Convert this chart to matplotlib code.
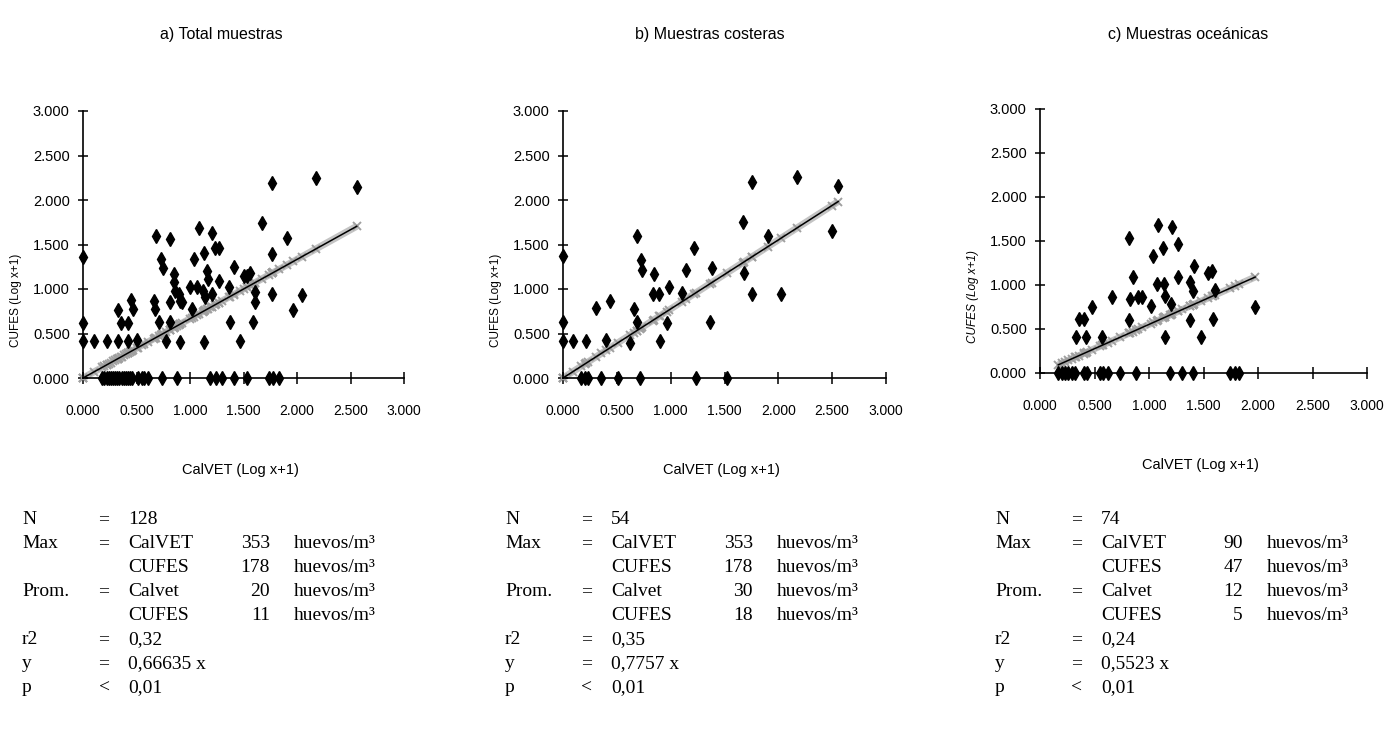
import matplotlib.pyplot as plt
import numpy as np

# ---- datos (log x+1) ----
titulos = ['a) Total muestras', 'b) Muestras costeras', 'c) Muestras oceánicas']

# a) total
cal_a = [0, 0, 0, 0.106, 0.224, 0.324, 0.324, 0.358, 0.42, 0.42, 0.45, 0.47, 0.505,
         0.66, 0.675, 0.68, 0.707, 0.73, 0.75, 0.775, 0.815, 0.815, 0.81, 0.847, 0.847,
         0.862, 0.893, 0.91, 0.91, 0.924, 1.0, 1.018, 1.033, 1.065, 1.086, 1.117, 1.133,
         1.133, 1.14, 1.158, 1.164, 1.205, 1.205, 1.236, 1.267, 1.267, 1.36, 1.37, 1.407,
         1.47, 1.5, 1.53, 1.563, 1.585, 1.61, 1.61, 1.671, 1.765, 1.765, 1.765, 1.91,
         1.967, 2.045, 2.18, 2.558,
         0.18, 0.2, 0.22, 0.24, 0.26, 0.28, 0.3, 0.32, 0.34, 0.36, 0.38, 0.40, 0.42,
         0.44, 0.46, 0.51, 0.55, 0.57, 0.61, 0.74, 0.88, 1.19, 1.24, 1.30, 1.41, 1.53,
         1.74, 1.78, 1.83]
cufes_a = [1.354, 0.616, 0.414, 0.414, 0.42, 0.42, 0.765, 0.616, 0.616, 0.414, 0.88, 0.78,
           0.43, 0.87, 0.776, 1.597, 0.627, 1.336, 1.24, 0.414, 1.56, 0.85, 0.627, 1.168,
           1.075, 0.98, 0.944, 0.87, 0.403, 0.85, 1.02, 0.776, 1.336, 1.02, 1.683, 0.98,
           1.41, 0.403, 0.907, 1.205, 1.112, 1.634, 0.944, 1.466, 1.466, 1.093, 1.02, 0.627,
           1.243, 0.414, 1.15, 1.15, 1.175, 0.627, 0.963, 0.85, 1.746, 2.194, 1.392, 0.944,
           1.578, 0.765, 0.937, 2.25, 2.146,
           0, 0, 0, 0, 0, 0, 0, 0, 0, 0, 0, 0, 0, 0, 0, 0, 0, 0, 0, 0, 0, 0, 0, 0, 0, 0,
           0, 0, 0]

# b) costeras
cal_b = [0, 0, 0, 0.093, 0.217, 0.31, 0.404, 0.441, 0.621, 0.658, 0.683, 0.683, 0.724,
         0.736, 0.845, 0.832, 0.894, 0.9, 0.963, 0.988, 1.102, 1.143, 1.22, 1.366, 1.382,
         1.668, 1.677, 1.755, 1.755, 1.9, 2.028, 2.174, 2.494, 2.556,
         0.171, 0.202, 0.233, 0.357, 0.512, 0.714, 1.236, 1.522]
cufes_b = [1.368, 0.625, 0.413, 0.413, 0.413, 0.784, 0.428, 0.866, 0.39, 0.773, 1.591, 0.625,
           1.331, 1.219, 1.171, 0.94, 0.94, 0.413, 0.613, 1.022, 0.959, 1.219, 1.461, 0.625,
           1.238, 1.751, 1.182, 2.204, 0.948, 1.591, 0.948, 2.26, 1.654, 2.156,
           0, 0, 0, 0, 0, 0, 0, 0]

# c) oceánicas
cal_c = [0.328, 0.358, 0.407, 0.42, 0.474, 0.572, 0.658, 0.817, 0.817, 0.826, 0.851, 0.903,
         0.94, 1.016, 1.04, 1.071, 1.087, 1.133, 1.142, 1.148, 1.148, 1.209, 1.203, 1.27,
         1.27, 1.377, 1.377, 1.408, 1.417, 1.478, 1.54, 1.576, 1.583, 1.607, 1.974,
         0.168, 0.199, 0.23, 0.26, 0.29, 0.32, 0.40, 0.43, 0.55, 0.575, 0.62, 0.735,
         0.878, 1.194, 1.307, 1.408, 1.745, 1.785, 1.83]
cufes_c = [0.411, 0.617, 0.617, 0.411, 0.754, 0.411, 0.865, 1.531, 0.602, 0.846, 1.086, 0.865,
           0.865, 0.762, 1.326, 1.01, 1.684, 1.417, 1.01, 0.876, 0.411, 1.657, 0.781, 1.467,
           1.086, 1.029, 0.602, 0.933, 1.219, 0.411, 1.135, 1.162, 0.61, 0.945, 0.754,
           0, 0, 0, 0, 0, 0, 0, 0, 0, 0, 0, 0, 0, 0, 0, 0, 0, 0, 0]

pendientes = [0.66635, 0.7757, 0.5523]
n_muestras = [128, 54, 74]
max_calvet = [353, 353, 90]
max_cufes = [178, 178, 47]
prom_calvet = [20, 30, 12]
prom_cufes = [11, 18, 5]
r2 = ['0,32', '0,35', '0,24']
p_val = '0,01'

ticks = [0, 0.5, 1.0, 1.5, 2.0, 2.5, 3.0]
tick_labels = ['0.000', '0.500', '1.000', '1.500', '2.000', '2.500', '3.000']

sans = ['Liberation Sans', 'DejaVu Sans']
serif = ['Liberation Serif', 'DejaVu Serif']

W, H = 1386, 747
fig = plt.figure(figsize=(13.86, 7.47), dpi=100)

# posiciones en pixeles: (izq, y de 0, ancho, alto)
cajas = [(83, 378, 321, 267), (563, 378, 323, 267), (1040, 373, 327, 264)]
centros_titulo = [221, 710, 1188]
x_bloque = [22, 505, 995]
filas = [520, 544, 568, 592, 616, 640, 664, 688]

datos = [(cal_a, cufes_a), (cal_b, cufes_b), (cal_c, cufes_c)]

for i in range(3):
    l, b0, w, h = cajas[i]
    ax = fig.add_axes([l / W, 1 - b0 / H, w / W, h / H])
    x = np.array(datos[i][0])
    y = np.array(datos[i][1])
    s = pendientes[i]

    # valores predichos (gris) y recta
    xr = np.array([x.min(), x.max()])
    ax.plot(xr, s * xr, color='#c4c4c4', lw=5, solid_capstyle='butt', zorder=1, clip_on=False)
    ax.plot(x, s * x, 'x', color='#a0a0a0', ms=5.5, mew=1.4, clip_on=False, zorder=2)
    ax.plot(xr, s * xr, color='black', lw=1.1, zorder=3, clip_on=False)
    ax.plot(x, y, 'd', color='black', ms=7.5, clip_on=False, zorder=4)

    ax.set_xlim(0, 3)
    ax.set_ylim(0, 3)
    ax.set_xticks(ticks)
    ax.set_yticks(ticks)
    ax.set_xticklabels(tick_labels, family=sans, fontsize=10)
    ax.set_yticklabels(tick_labels, family=sans, fontsize=10.5)
    for sp in ['top', 'right']:
        ax.spines[sp].set_visible(False)
    for sp in ['left', 'bottom']:
        ax.spines[sp].set_linewidth(1.2)
    ax.tick_params(axis='x', direction='inout', length=9, width=1.1, pad=14)
    ax.tick_params(axis='y', direction='inout', length=7, width=1.1, pad=6)

    ax.set_xlabel('CalVET (Log x+1)', family=sans, fontsize=10.5)
    ax.xaxis.set_label_coords(0.49, -85 / h)
    ax.set_ylabel('CUFES (Log x+1)', family=sans, fontsize=8.5,
                  style='italic' if i == 2 else 'normal')
    ax.yaxis.set_label_coords(-61 / w, 0.29)

    fig.text(centros_titulo[i] / W, 1 - 35 / H, titulos[i], family=sans,
             fontsize=11.5, ha='center', va='center')

    # bloque de estadisticos
    x0 = x_bloque[i]
    etiquetas = ['N', 'Max', '', 'Prom.', '', 'r2', 'y', 'p']
    ops = ['=', '=', '', '=', '', '=', '=', '<']
    simples = {0: str(n_muestras[i]), 5: r2[i],
               6: str(s).replace('.', ',') + ' x', 7: p_val}
    triples = {1: ('CalVET', max_calvet[i]), 2: ('CUFES', max_cufes[i]),
               3: ('Calvet', prom_calvet[i]), 4: ('CUFES', prom_cufes[i])}
    for k, yy in enumerate(filas):
        ty = 1 - yy / H
        kw = dict(family=serif, fontsize=14, va='center')
        fig.text(x0 / W, ty, etiquetas[k], ha='left', **kw)
        fig.text((x0 + 82) / W, ty, ops[k], ha='center', **kw)
        if k in simples:
            fig.text((x0 + 106) / W, ty, simples[k], ha='left', **kw)
        else:
            nombre, val = triples[k]
            fig.text((x0 + 106) / W, ty, nombre, ha='left', **kw)
            fig.text((x0 + 248) / W, ty, str(val), ha='right', **kw)
            fig.text((x0 + 272) / W, ty, 'huevos/m³', ha='left', **kw)

fig.savefig('out.png', dpi=100, facecolor='white')
